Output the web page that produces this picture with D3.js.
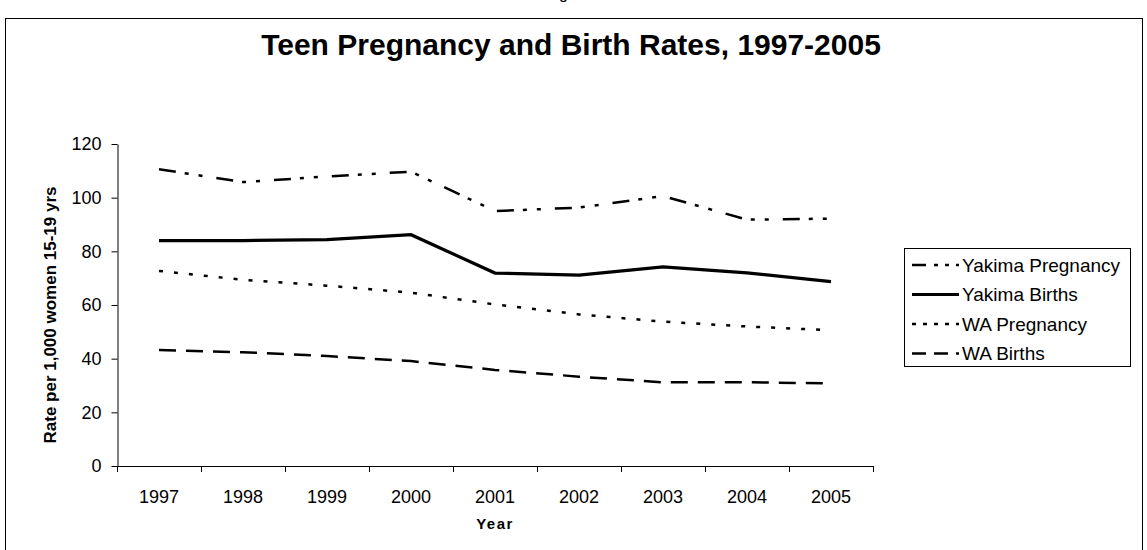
<!DOCTYPE html>
<html>
<head>
<meta charset="utf-8">
<script src="https://cdn.jsdelivr.net/npm/d3@7"></script>
<style>
  body { margin: 0; background: #fff; }
  text { font-family: "Liberation Sans", Arial, sans-serif; fill: #000; }
</style>
</head>
<body>
<div id="chart-area"></div>
<script>
// data
var years = ["1997", "1998", "1999", "2000", "2001", "2002", "2003", "2004", "2005"];
var yakimaPregnancy = [110.6, 105.8, 107.9, 109.7, 95.0, 96.3, 100.6, 91.8, 92.2];
var yakimaBirths    = [84.0, 84.0, 84.4, 86.2, 71.9, 71.1, 74.2, 72.0, 68.7];
var waPregnancy     = [72.7, 69.4, 67.2, 64.6, 60.2, 56.5, 53.8, 52.0, 50.6];
var waBirths        = [43.2, 42.4, 41.0, 39.1, 35.8, 33.3, 31.2, 31.2, 30.8];
var yTicks = [0, 20, 40, 60, 80, 100, 120];
var seriesNames = ["Yakima Pregnancy", "Yakima Births", "WA Pregnancy", "WA Births"];

const svgWidth = 1147;
const svgHeight = 550;
var margin = {left:117, right:274, top:144, bottom:84};

var chartWidth = svgWidth - margin.left - margin.right,
    chartHeight = svgHeight - margin.top - margin.bottom;

var root = d3.select("#chart-area")
    .append("svg")
        .attr("width", svgWidth)
        .attr("height", svgHeight);

root.append("rect")
    .attr("width", svgWidth)
    .attr("height", svgHeight)
    .attr("fill", "#fff");

// caption above the frame, cut off by the page edge as in the source
root.append("text")
    .attr("x", 575)
    .attr("y", -1)
    .attr("font-size", "16px")
    .attr("text-anchor", "middle")
    .text("Figure 4");

// outer frame (bottom runs off the page)
root.append("rect")
    .attr("x", 5.5)
    .attr("y", 18.5)
    .attr("width", 1137)
    .attr("height", 600)
    .attr("fill", "none")
    .attr("stroke", "#000")
    .attr("stroke-width", 1);

// title
root.append("text")
    .attr("x", 571)
    .attr("y", 55)
    .attr("font-size", "30px")
    .attr("font-weight", "bold")
    .attr("text-anchor", "middle")
    .text("Teen Pregnancy and Birth Rates, 1997-2005");

var svg = root.append("g")
    .attr("transform", "translate("+margin.left+","+margin.top+")");

var xScaleBand = d3.scaleBand()
    .domain(years)
    .range([0, chartWidth]);

var yScaleLinear = d3.scaleLinear()
    .domain([0, 120])
    .range([chartHeight, 0]);

// x axis
var xAxisCall = d3.axisBottom(xScaleBand).tickSize(0).tickPadding(24);
var xAxis = svg.append("g")
    .attr("transform", "translate(0,"+chartHeight+")")
    .call(xAxisCall);
xAxis.select(".domain").remove();
xAxis.selectAll("text").attr("font-size", "18px").attr("font-family", null);

// band-edge ticks like the spreadsheet axis
var edges = years.map(function(d){ return xScaleBand(d); }).concat([chartWidth]);
svg.append("g").selectAll("line")
    .data(edges)
    .enter().append("line")
    .attr("x1", function(d){ return Math.round(d)+0.5; })
    .attr("x2", function(d){ return Math.round(d)+0.5; })
    .attr("y1", chartHeight)
    .attr("y2", chartHeight+6)
    .attr("stroke", "#000");
svg.append("line")
    .attr("x1", 0).attr("x2", chartWidth)
    .attr("y1", chartHeight+0.5).attr("y2", chartHeight+0.5)
    .attr("stroke", "#000");

// y axis
var yAxisCall = d3.axisLeft(yScaleLinear)
    .tickValues(yTicks)
    .tickSize(6)
    .tickPadding(10)
    .tickSizeOuter(0);
var yAxis = svg.append("g")
    .attr("transform", "translate(0.5,0)")
    .call(yAxisCall);
yAxis.selectAll("text").attr("font-size", "18px").attr("font-family", null);

// labels
svg.append("text")
    .attr("x", chartWidth/2)
    .attr("y", chartHeight+63)
    .attr("font-size", "15px")
    .attr("font-weight", "bold")
    .attr("letter-spacing", "1.5px")
    .attr("text-anchor", "middle")
    .text("Year");

svg.append("text")
    .attr("x", -(chartHeight/2) - 10)
    .attr("y", -61)
    .attr("font-size", "17px")
    .attr("font-weight", "bold")
    .attr("text-anchor", "middle")
    .attr("transform", "rotate(-90)")
    .text("Rate per 1,000 women 15-19 yrs");

// lines
var series = [
    {name: seriesNames[0], values: yakimaPregnancy, dash: "17,9,4,10,4,14", width: 2.5},
    {name: seriesNames[1], values: yakimaBirths, dash: null, width: 3.2},
    {name: seriesNames[2], values: waPregnancy, dash: "4,11", width: 2.5},
    {name: seriesNames[3], values: waBirths, dash: "17,10", width: 2.5}
];

var line = d3.line()
    .x(function(d, i){ return xScaleBand(years[i]) + xScaleBand.bandwidth()/2; })
    .y(function(d){ return yScaleLinear(d); });

svg.selectAll(".series")
    .data(series)
    .enter().append("path")
    .attr("class", "series")
    .attr("d", function(d){ return line(d.values); })
    .attr("fill", "none")
    .attr("stroke", "#000")
    .attr("stroke-width", function(d){ return d.width; })
    .attr("stroke-dasharray", function(d){ return d.dash; });

// legend
var legend = root.append("g").attr("transform", "translate(904,248)");
legend.append("rect")
    .attr("x", 0.5).attr("y", 0.5)
    .attr("width", 226).attr("height", 118)
    .attr("fill", "#fff")
    .attr("stroke", "#000");

var legendDash = ["14,8,4,7,4,7", null, "4,7", "14,8"];
var rows = legend.selectAll(".row")
    .data(series)
    .enter().append("g")
    .attr("transform", function(d, i){ return "translate(0,"+(17+i*29.5)+")"; });
rows.append("line")
    .attr("x1", 8).attr("x2", 55)
    .attr("y1", 0).attr("y2", 0)
    .attr("stroke", "#000")
    .attr("stroke-width", function(d){ return d.width; })
    .attr("stroke-dasharray", function(d, i){ return legendDash[i]; });
rows.append("text")
    .attr("x", 58)
    .attr("y", 6.5)
    .attr("font-size", "19px")
    .text(function(d){ return d.name; });
</script>
</body>
</html>
